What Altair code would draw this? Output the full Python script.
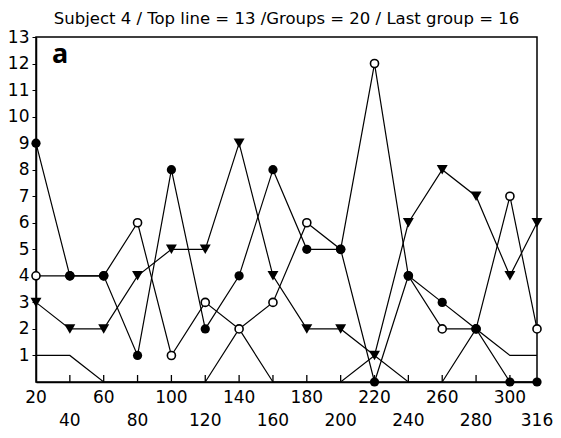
import altair as alt
import pandas as pd

x_vals = [20, 40, 60, 80, 100, 120, 140, 160, 180, 200, 220, 240, 260, 280, 300, 316]
filled = [9, 4, 4, 1, 8, 2, 4, 8, 5, 5, 0, 4, 3, 2, 0, 0]
open_c = [4, 4, 4, 6, 1, 3, 2, 3, 6, 5, 12, 4, 2, 2, 7, 2]
tri = [3, 2, 2, 4, 5, 5, 9, 4, 2, 2, 1, 6, 8, 7, 4, 6]
plain = [1, 1, 0, 0, 0, 0, 2, 0, 0, 0, 1, 0, 0, 2, 1, 1]
y_ticks = list(range(1, 14))
x_labels_top = [20, 60, 100, 140, 180, 220, 260, 300]
x_labels_bottom = [40, 80, 120, 160, 200, 240, 280, 316]
title_text = "Subject 4  / Top line = 13 /Groups = 20 / Last group = 16"

FONT = "DejaVu Sans"
W, H = 501, 345

rows = []
for name, vals in [("filled", filled), ("open", open_c), ("tri", tri), ("plain", plain)]:
    for xv, yv in zip(x_vals, vals):
        rows.append({"x": xv, "y": yv, "s": name})
df = pd.DataFrame(rows)

xs = alt.Scale(domain=[20, 316], nice=False, zero=False)
ys = alt.Scale(domain=[0, 13], nice=False, zero=False)

x_axis = alt.Axis(
    values=x_vals, title=None, ticks=False, grid=False, labels=False,
    domainColor="black", domainWidth=1.5,
)
y_axis = alt.Axis(
    values=y_ticks, title=None, grid=False, tickSize=4, tickColor="black",
    labelFont=FONT, labelFontSize=17, labelColor="black", labelPadding=3,
    domainColor="black", domainWidth=1.5, labelFlush=False,
)

base = alt.Chart(df).encode(
    x=alt.X("x:Q", scale=xs, axis=x_axis),
    y=alt.Y("y:Q", scale=ys, axis=y_axis),
)

lines = base.mark_line(color="black", strokeWidth=1.2).encode(detail="s:N")

pts_filled = base.transform_filter(alt.datum.s == "filled").mark_point(
    shape="circle", filled=True, color="black", size=85, opacity=1)
pts_open = base.transform_filter(alt.datum.s == "open").mark_point(
    shape="circle", filled=True, fill="white", stroke="black", strokeWidth=1.6, size=65, opacity=1)
pts_tri = base.transform_filter(alt.datum.s == "tri").mark_point(
    shape="triangle-down", filled=True, color="black", size=120, opacity=1)

tick_df = pd.DataFrame({"x": x_vals[1:-1]})
ticks = alt.Chart(tick_df).mark_rule(color="black", strokeWidth=1.3).encode(
    x=alt.X("x:Q", scale=xs),
    y=alt.value(H),
    y2=alt.value(H - 7),
)

lab_top = alt.Chart(pd.DataFrame({"v": x_labels_top})).mark_text(
    font=FONT, fontSize=17, color="black", baseline="middle", align="center",
).encode(x=alt.X("v:Q", scale=xs), y=alt.value(H + 16), text="v:N")
lab_bot = alt.Chart(pd.DataFrame({"v": x_labels_bottom})).mark_text(
    font=FONT, fontSize=17, color="black", baseline="middle", align="center",
).encode(x=alt.X("v:Q", scale=xs), y=alt.value(H + 39), text="v:N")

label_a = alt.Chart(pd.DataFrame({"t": ["a"]})).mark_text(
    font="Noto Sans", fontWeight="bold", fontSize=27, align="left",
    baseline="alphabetic", color="black",
).encode(text="t:N", x=alt.value(16), y=alt.value(26))

chart = alt.layer(lines, ticks, pts_open, pts_filled, pts_tri, lab_top, lab_bot, label_a).properties(
    width=W, height=H,
    background="white",
    title=alt.TitleParams(title_text, font=FONT, fontSize=16.5, fontWeight="normal",
                          color="black", anchor="middle", offset=1),
    autosize=alt.AutoSizeParams(type="none"),
    padding={"left": 28, "top": 29, "right": 16, "bottom": 48},
).configure_view(stroke="black", strokeWidth=1.5)

chart.save("out.html", embed_options={"renderer": "svg", "actions": False})
